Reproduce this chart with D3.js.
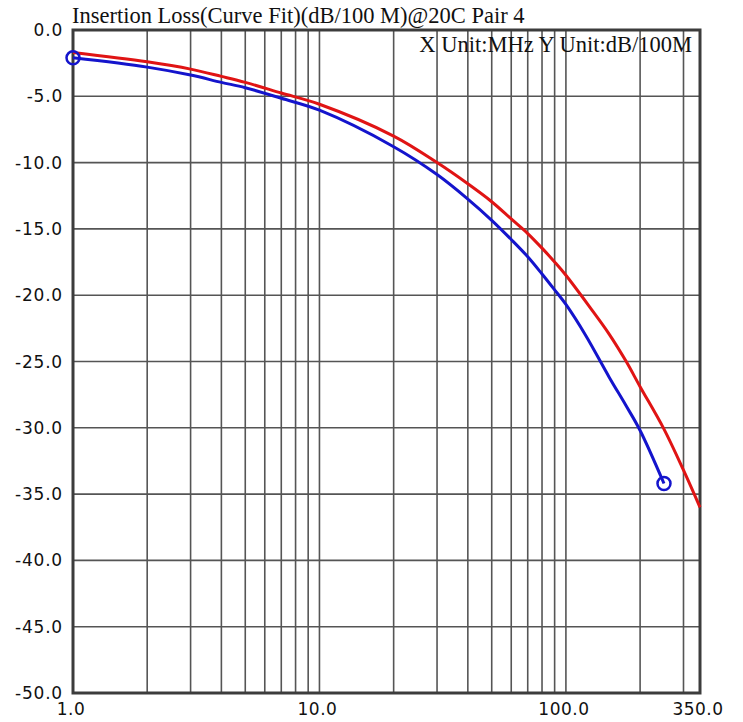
<!DOCTYPE html>
<html>
<head>
<meta charset="utf-8">
<script src="https://cdn.jsdelivr.net/npm/d3@7"></script>
<style>
  html, body { margin: 0; padding: 0; background: #ffffff; }
  svg { display: block; }
</style>
</head>
<body>
<div id="chart"></div>
<script>
// ── Data ──────────────────────────────────────────────────────────────────
// Red curve (limit), frequency in MHz / loss in dB per 100 m
const limitFreq = [1, 2, 3, 4, 5, 7, 10, 20, 30, 40, 50, 60, 70, 80, 90, 100, 125, 150, 175, 200, 250, 300, 350];
const limitLoss = [-1.7, -2.4, -2.95, -3.5, -3.95, -4.75, -5.6, -8.0, -10.0, -11.6, -12.95, -14.25, -15.35, -16.45, -17.5, -18.5, -20.9, -22.95, -24.95, -26.9, -30.1, -33.2, -36.0];

// Blue curve (measured pair 4)
const pairFreq = [1, 2, 3, 4, 5, 7, 10, 20, 30, 40, 50, 60, 70, 80, 90, 100, 120, 150, 175, 200, 250];
const pairLoss = [-2.1, -2.8, -3.4, -3.95, -4.35, -5.15, -6.05, -8.8, -10.9, -12.75, -14.35, -15.8, -17.1, -18.4, -19.6, -20.7, -23.0, -26.2, -28.3, -30.2, -34.2];

// Axis ticks
const xGridTicks  = [2, 3, 4, 5, 6, 7, 8, 9, 10, 20, 30, 40, 50, 60, 70, 80, 90, 100, 200, 300];
const xLabelTicks = [1, 10, 100, 350];
const yTicks      = [0, -5, -10, -15, -20, -25, -30, -35, -40, -45, -50];

const titleText = "Insertion Loss(Curve Fit)(dB/100 M)@20C Pair 4";
const unitText  = "X Unit:MHz Y Unit:dB/100M";

// ── Layout ────────────────────────────────────────────────────────────────
const W = 743, H = 722;
const plot = { left: 73, top: 30, right: 700, bottom: 693 };

const x = d3.scaleLog().domain([1, 350]).range([plot.left, plot.right]);
const y = d3.scaleLinear().domain([0, -50]).range([plot.top, plot.bottom]);

const svg = d3.select("#chart")
  .append("svg")
  .attr("width", W)
  .attr("height", H);

const gridColor = "#555555";
const axisColor = "#3c3c3c";
const labelFont = "'DejaVu Sans', sans-serif";
const serifFont = "'Liberation Serif', 'Times New Roman', serif";

// ── Grid ──────────────────────────────────────────────────────────────────
svg.append("g")
  .selectAll("line")
  .data(xGridTicks)
  .join("line")
    .attr("x1", d => x(d)).attr("x2", d => x(d))
    .attr("y1", plot.top).attr("y2", plot.bottom)
    .attr("stroke", gridColor)
    .attr("stroke-width", 1.6);

svg.append("g")
  .selectAll("line")
  .data(yTicks.filter(d => d !== 0 && d !== -50))
  .join("line")
    .attr("x1", plot.left).attr("x2", plot.right)
    .attr("y1", d => y(d)).attr("y2", d => y(d))
    .attr("stroke", gridColor)
    .attr("stroke-width", 1.6);

// ── Frame ─────────────────────────────────────────────────────────────────
svg.append("rect")
  .attr("x", plot.left).attr("y", plot.top)
  .attr("width", plot.right - plot.left)
  .attr("height", plot.bottom - plot.top)
  .attr("fill", "none")
  .attr("stroke", axisColor)
  .attr("stroke-width", 3);

// ── Tick labels ───────────────────────────────────────────────────────────
svg.append("g")
  .selectAll("text")
  .data(yTicks)
  .join("text")
    .attr("x", 63)
    .attr("y", d => y(d) + 6)
    .attr("text-anchor", "end")
    .attr("font-family", labelFont)
    .attr("font-size", "17px")
    .attr("letter-spacing", "0.8px")
    .attr("fill", "#111")
    .text(d => d.toFixed(1));

svg.append("g")
  .selectAll("text")
  .data(xLabelTicks)
  .join("text")
    .attr("x", d => x(d) - 2)
    .attr("y", 715)
    .attr("text-anchor", "middle")
    .attr("font-family", labelFont)
    .attr("font-size", "17px")
    .attr("letter-spacing", "0.5px")
    .attr("fill", "#111")
    .text(d => d.toFixed(1));

// ── Title and units ───────────────────────────────────────────────────────
svg.append("text")
  .attr("x", 72).attr("y", 23)
  .attr("font-family", serifFont)
  .attr("font-size", "22.5px")
  .attr("fill", "#111")
  .text(titleText);

svg.append("text")
  .attr("x", 692).attr("y", 51.5)
  .attr("text-anchor", "end")
  .attr("font-family", serifFont)
  .attr("font-size", "22.5px")
  .attr("fill", "#111")
  .text(unitText);

// ── Curves ────────────────────────────────────────────────────────────────
const line = d3.line()
  .x(d => x(d[0]))
  .y(d => y(d[1]))
  .curve(d3.curveCatmullRom.alpha(0.5));

const limitPts = limitFreq.map((f, i) => [f, limitLoss[i]]);
const pairPts  = pairFreq.map((f, i) => [f, pairLoss[i]]);

svg.append("path")
  .datum(limitPts)
  .attr("d", line)
  .attr("fill", "none")
  .attr("stroke", "#e01414")
  .attr("stroke-width", 3);

svg.append("path")
  .datum(pairPts)
  .attr("d", line)
  .attr("fill", "none")
  .attr("stroke", "#1414cc")
  .attr("stroke-width", 3);

// Start / end markers on the measured pair
svg.append("g")
  .selectAll("circle")
  .data([pairPts[0], pairPts[pairPts.length - 1]])
  .join("circle")
    .attr("cx", d => x(d[0]))
    .attr("cy", d => y(d[1]))
    .attr("r", 6.5)
    .attr("fill", "none")
    .attr("stroke", "#1414cc")
    .attr("stroke-width", 2.5);
</script>
</body>
</html>
